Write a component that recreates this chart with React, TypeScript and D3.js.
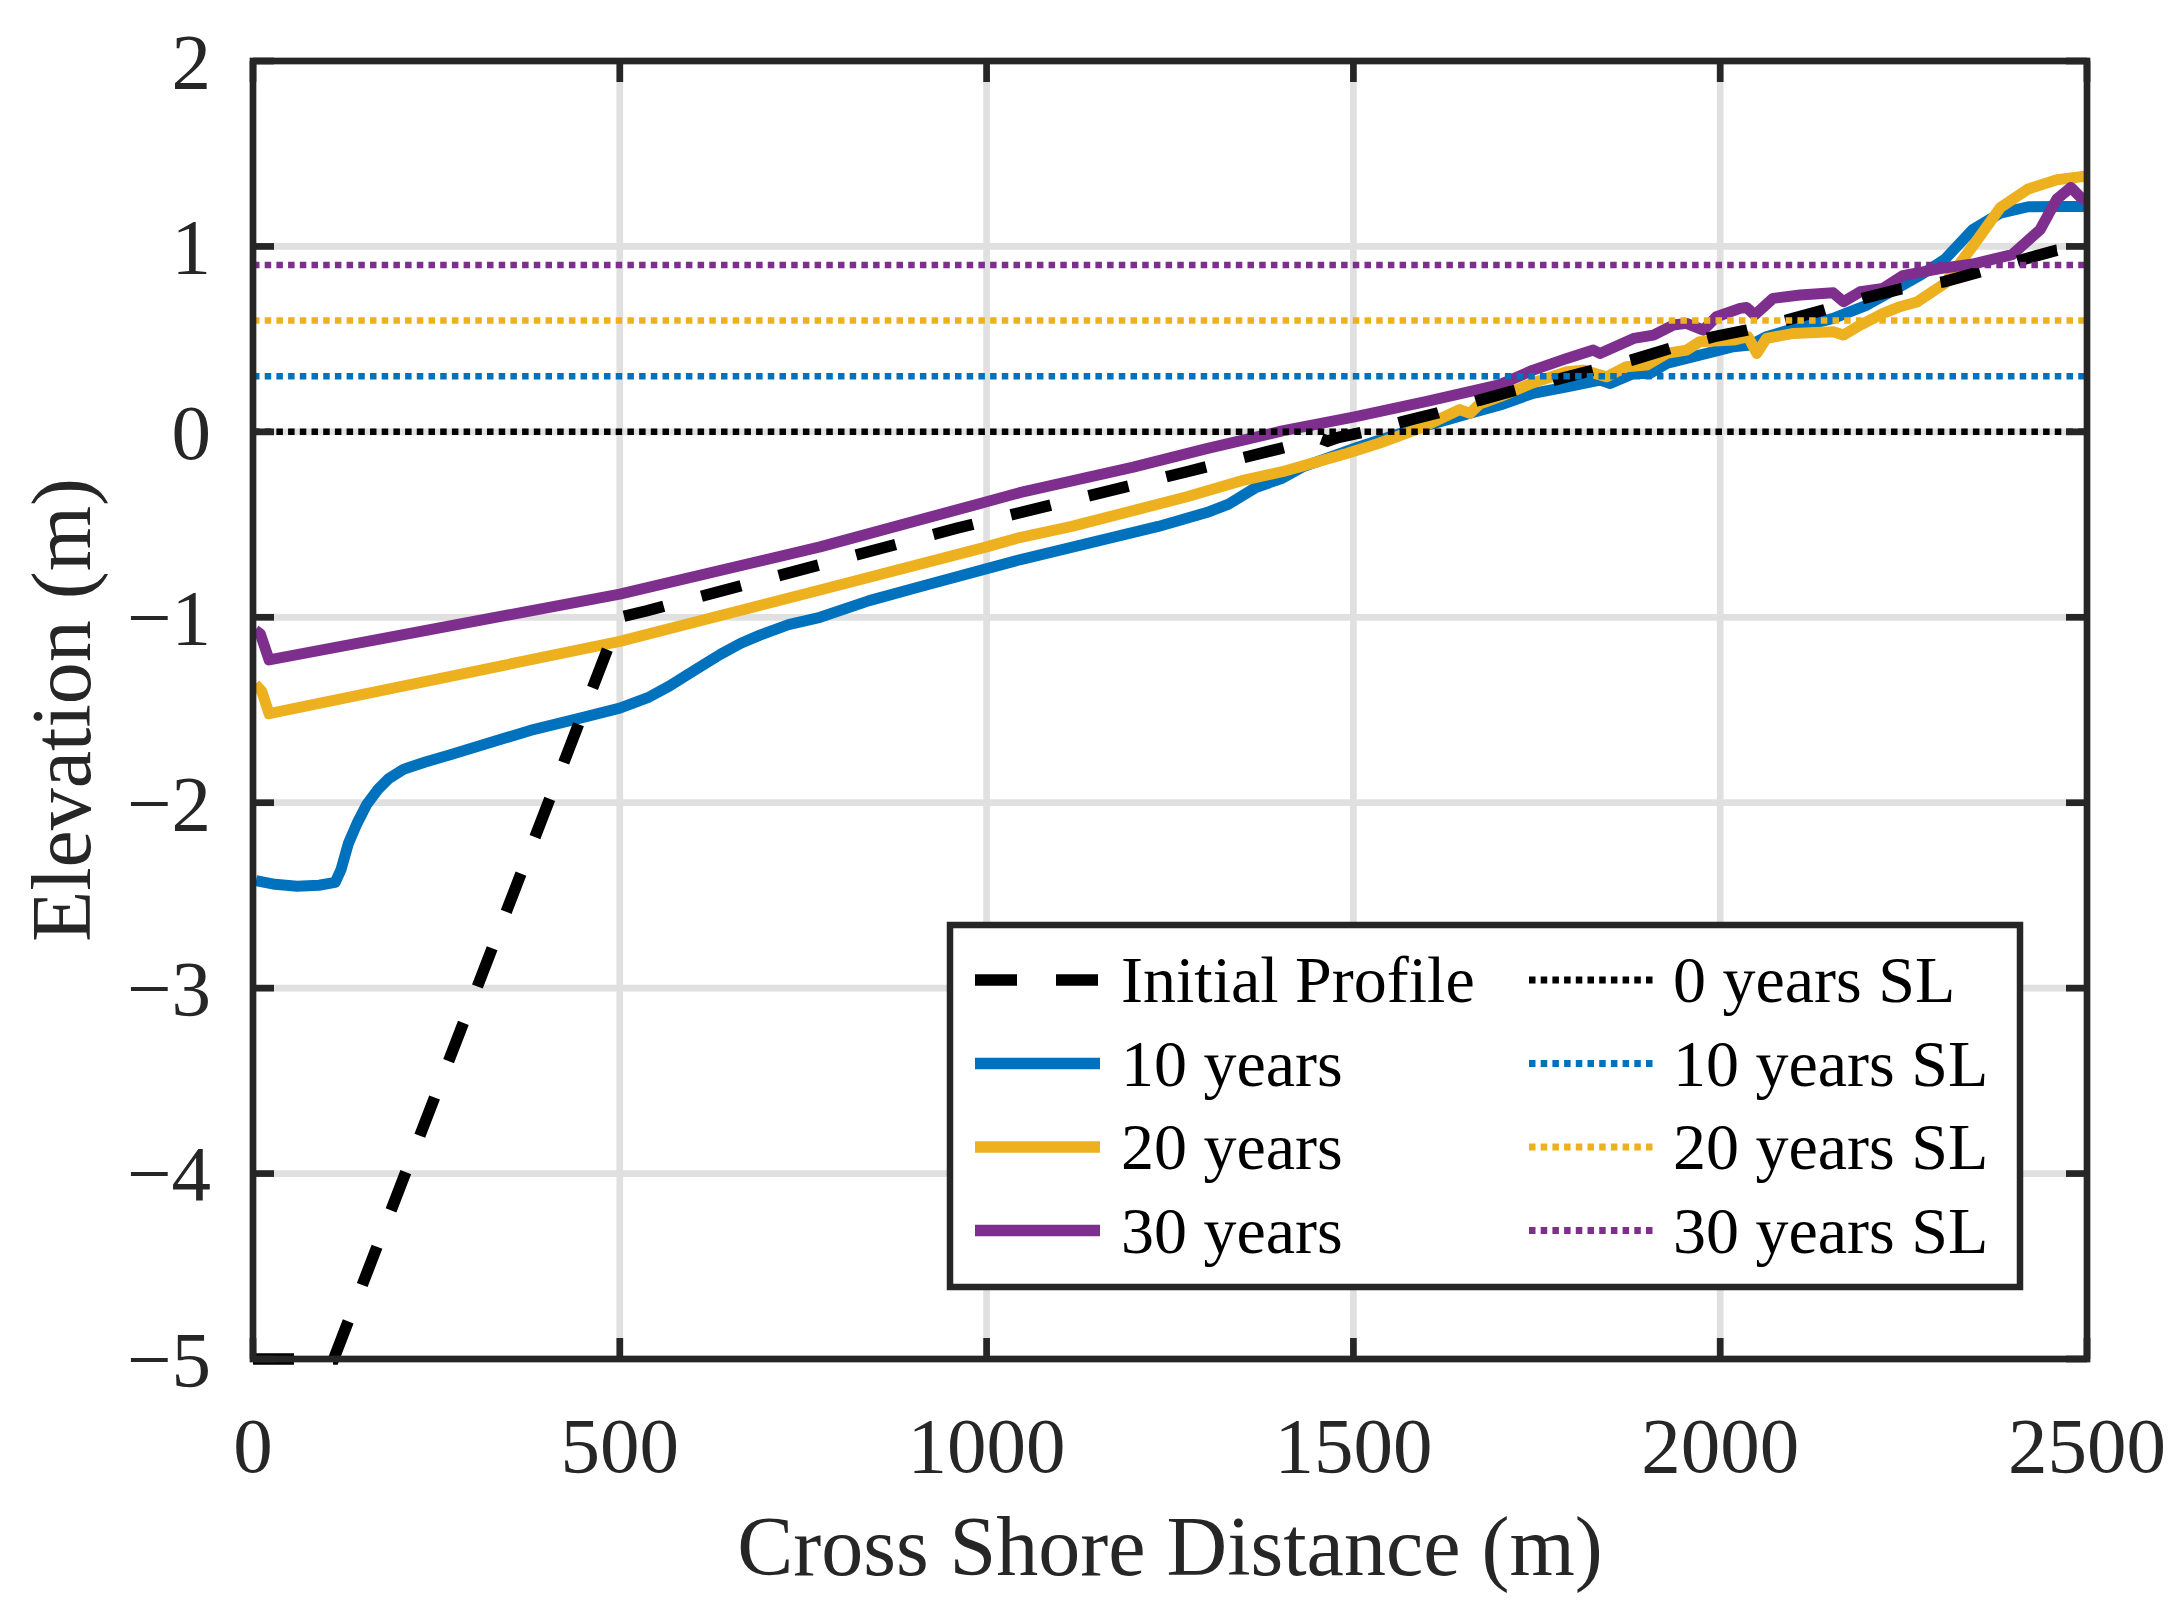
import React from "react";
import * as d3 from "d3";

type Pt = [number, number];

const initialProfile: Pt[] = [
  [0, -5], [110, -5], [500, -1.0], [537, -0.965], [959, -0.52], [1273, -0.215],
  [1400, -0.09], [1455, -0.035], [1465, -0.05], [1480, -0.03], [1515, 0.0], [1566, 0.054], [1613, 0.1],
  [1671, 0.17], [1717, 0.22], [1879, 0.387], [1932, 0.45], [1991, 0.513], [2036, 0.549],
  [2091, 0.603], [2141, 0.657], [2195, 0.72], [2245, 0.77], [2306, 0.81], [2351, 0.86],
  [2413, 0.93], [2459, 0.98], [2500, 1.0],
];

const years10: Pt[] = [
  [4, -2.42], [30, -2.44], [60, -2.45], [90, -2.445], [112, -2.43], [120, -2.36], [130, -2.22],
  [142, -2.11], [155, -2.01], [170, -1.93], [185, -1.87], [205, -1.82], [235, -1.78], [270, -1.74],
  [378, -1.61], [450, -1.54], [500, -1.49], [540, -1.43], [568, -1.37], [600, -1.29], [637, -1.2],
  [665, -1.14], [691, -1.096], [730, -1.04], [773, -1.0], [840, -0.91], [909, -0.835], [1045, -0.69],
  [1234, -0.51], [1300, -0.435], [1330, -0.39], [1367, -0.3], [1403, -0.25], [1430, -0.19],
  [1508, -0.08], [1586, 0.02], [1627, 0.064], [1659, 0.1], [1700, 0.145], [1745, 0.208],
  [1791, 0.243], [1836, 0.279], [1850, 0.261], [1882, 0.315], [1904, 0.315], [1927, 0.369],
  [1972, 0.414], [2018, 0.459], [2041, 0.468], [2063, 0.513], [2109, 0.567], [2154, 0.612],
  [2200, 0.684], [2245, 0.783], [2275, 0.85], [2306, 0.93], [2344, 1.09], [2382, 1.18],
  [2420, 1.214], [2460, 1.215], [2500, 1.215],
];

const years20: Pt[] = [
  [3, -1.36], [12, -1.4], [22, -1.52], [500, -1.13], [773, -0.853], [1000, -0.62], [1045, -0.57],
  [1116, -0.51], [1273, -0.35], [1351, -0.26], [1403, -0.215], [1430, -0.185], [1492, -0.115],
  [1536, -0.06], [1591, 0.02], [1645, 0.12], [1659, 0.1], [1672, 0.15], [1700, 0.19], [1745, 0.265],
  [1791, 0.324], [1813, 0.333], [1845, 0.297], [1872, 0.351], [1900, 0.36], [1927, 0.423],
  [1954, 0.441], [1972, 0.486], [2018, 0.495], [2038, 0.513], [2050, 0.423], [2063, 0.504],
  [2100, 0.531], [2154, 0.54], [2168, 0.522], [2191, 0.576], [2222, 0.639], [2245, 0.675],
  [2268, 0.7], [2306, 0.8], [2344, 1.0], [2382, 1.21], [2420, 1.31], [2459, 1.36], [2500, 1.38],
];

const years30: Pt[] = [
  [3, -1.07], [10, -1.09], [22, -1.23], [500, -0.875], [773, -0.62], [1000, -0.377], [1045, -0.328],
  [1200, -0.19], [1300, -0.09], [1403, 0.005], [1500, 0.08], [1600, 0.165], [1700, 0.255],
  [1745, 0.333], [1791, 0.396], [1827, 0.441], [1836, 0.423], [1882, 0.504], [1909, 0.522],
  [1936, 0.576], [1954, 0.585], [1977, 0.549], [1995, 0.621], [2027, 0.666], [2036, 0.671],
  [2047, 0.63], [2072, 0.72], [2109, 0.738], [2154, 0.75], [2168, 0.702], [2191, 0.756],
  [2222, 0.774], [2249, 0.843], [2300, 0.88], [2344, 0.905], [2398, 0.956], [2436, 1.09],
  [2459, 1.256], [2478, 1.318], [2490, 1.27], [2500, 1.245],
];

const seaLevels = [0, 0.3, 0.6, 0.9];
const seaLevelLabels = ["0 years SL", "10 years SL", "20 years SL", "30 years SL"];
const seaLevelColors = ["#000000", "#0072BD", "#EDB120", "#7E2F8E"];

const profileLabels = ["Initial Profile", "10 years", "20 years", "30 years"];
const profileColors = ["#000000", "#0072BD", "#EDB120", "#7E2F8E"];

const xTicks = [0, 500, 1000, 1500, 2000, 2500];
const yTicks = [-5, -4, -3, -2, -1, 0, 1, 2];
const xDomain: [number, number] = [0, 2500];
const yDomain: [number, number] = [-5, 2];

const W = 2179;
const H = 1604;
const FONT = "'Liberation Serif', 'Times New Roman', Times, serif";

export default function App() {
  const L = 253, R = 2087, T = 61, B = 1359;
  const x = d3.scaleLinear().domain(xDomain).range([L, R]);
  const y = d3.scaleLinear().domain(yDomain).range([B, T]);
  const line = d3.line<Pt>().x((d) => x(d[0])).y((d) => y(d[1]));
  const axisColor = "#262626";
  const gridColor = "#e0e0e0";
  const lw = 6.7;
  const tickLen = 21;
  const fmt = (v: number) => (v < 0 ? "\u2212" + Math.abs(v) : String(v));

  const profiles = [years10, years20, years30];

  const legL = 950, legT = 925, legR = 2020, legB = 1287;
  const rowY = [980, 1063.5, 1147, 1230.5];

  return (
    <div style={{ position: "absolute", left: 0, top: 0 }}>
      <svg width={W} height={H} viewBox={`0 0 ${W} ${H}`} style={{ display: "block", background: "#fff" }}>
        <rect x={0} y={0} width={W} height={H} fill="#fff" />
        {xTicks.filter((t) => t > xDomain[0] && t < xDomain[1]).map((t) => (
          <line key={"gx" + t} x1={x(t)} x2={x(t)} y1={T} y2={B} stroke={gridColor} strokeWidth={lw} />
        ))}
        {yTicks.filter((t) => t > yDomain[0] && t < yDomain[1]).map((t) => (
          <line key={"gy" + t} x1={L} x2={R} y1={y(t)} y2={y(t)} stroke={gridColor} strokeWidth={lw} />
        ))}
        {profiles.map((p, i) => (
          <path key={"p" + i} d={line(p) || ""} fill="none" stroke={profileColors[i + 1]} strokeWidth={11}
            strokeLinejoin="round" strokeLinecap="butt" />
        ))}
        <path d={line(initialProfile) || ""} fill="none" stroke="#000" strokeWidth={11.5}
          strokeDasharray="41 39" strokeLinejoin="miter" />
        {seaLevels.map((s, i) => (
          <line key={"sl" + i} x1={L} x2={R} y1={y(s)} y2={y(s)} stroke={seaLevelColors[i]}
            strokeWidth={6.5} strokeDasharray="6.5 5.2" />
        ))}
        <rect x={L} y={T} width={R - L} height={B - T} fill="none" stroke={axisColor} strokeWidth={lw} />
        {xTicks.map((t) => (
          <g key={"xt" + t}>
            <line x1={x(t)} x2={x(t)} y1={B} y2={B - tickLen} stroke={axisColor} strokeWidth={lw} />
            <line x1={x(t)} x2={x(t)} y1={T} y2={T + tickLen} stroke={axisColor} strokeWidth={lw} />
            <text x={x(t)} y={1472} textAnchor="middle" fontFamily={FONT} fontSize={79} fill="#262626">{fmt(t)}</text>
          </g>
        ))}
        {yTicks.map((t) => (
          <g key={"yt" + t}>
            <line x1={L} x2={L + tickLen} y1={y(t)} y2={y(t)} stroke={axisColor} strokeWidth={lw} />
            <line x1={R} x2={R - tickLen} y1={y(t)} y2={y(t)} stroke={axisColor} strokeWidth={lw} />
            <text x={211} y={y(t)} dy="0.34em" textAnchor="end" fontFamily={FONT} fontSize={79} fill="#262626">{fmt(t)}</text>
          </g>
        ))}
        <text x={(L + R) / 2} y={1575} textAnchor="middle" fontFamily={FONT} fontSize={84} fill="#262626">
          Cross Shore Distance (m)
        </text>
        <text transform={`translate(90, ${(T + B) / 2}) rotate(-90)`} textAnchor="middle" fontFamily={FONT}
          fontSize={84} fill="#262626">
          Elevation (m)
        </text>
        <rect x={legL} y={legT} width={legR - legL} height={legB - legT} fill="#fff" stroke={axisColor} strokeWidth={6.5} />
        {profileLabels.map((lab, i) => (
          <g key={"lg" + i}>
            <line x1={975} x2={1100} y1={rowY[i]} y2={rowY[i]} stroke={profileColors[i]} strokeWidth={11.5}
              strokeDasharray={i === 0 ? "42 39" : undefined} />
            <text x={1121} y={rowY[i]} dy="0.34em" fontFamily={FONT} fontSize={66} fill="#000">{lab}</text>
          </g>
        ))}
        {seaLevelLabels.map((lab, i) => (
          <g key={"ls" + i}>
            <line x1={1529} x2={1656} y1={rowY[i]} y2={rowY[i]} stroke={seaLevelColors[i]} strokeWidth={7}
              strokeDasharray="6.5 5.2" />
            <text x={1673} y={rowY[i]} dy="0.34em" fontFamily={FONT} fontSize={66} fill="#000">{lab}</text>
          </g>
        ))}
      </svg>
    </div>
  );
}
